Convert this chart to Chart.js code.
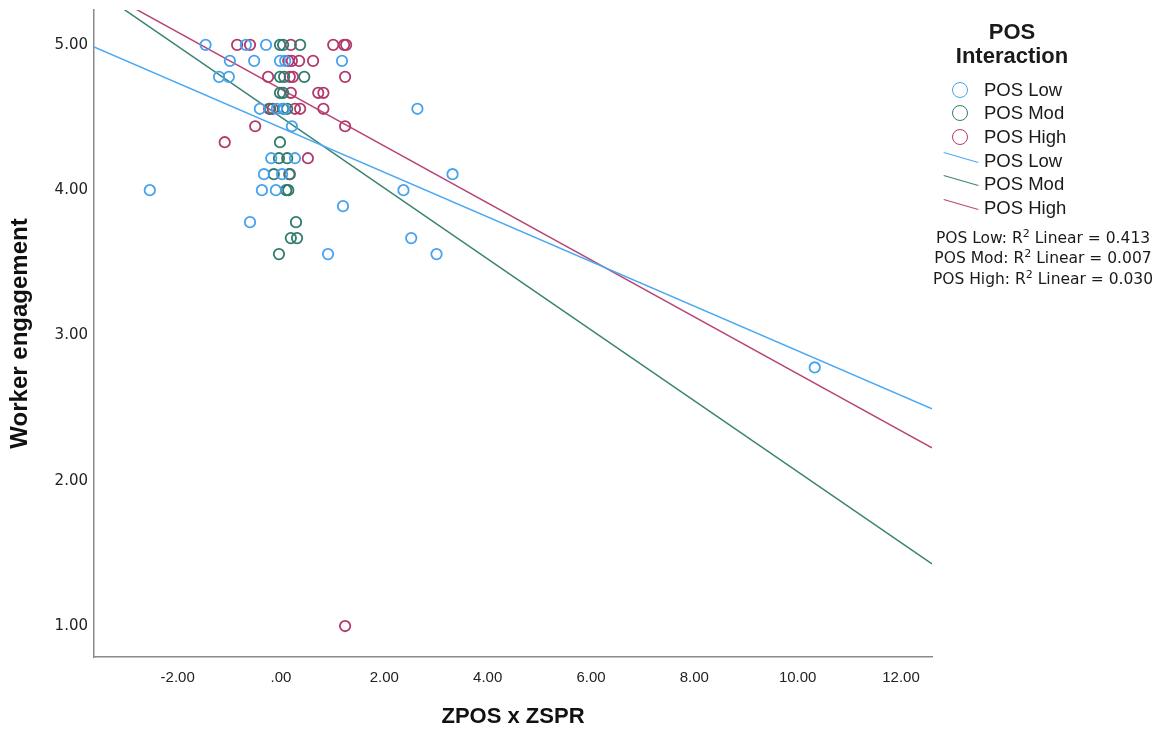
<!DOCTYPE html>
<html>
<head>
<meta charset="utf-8">
<title>Worker engagement by ZPOS x ZSPR</title>
<script src="https://cdn.jsdelivr.net/npm/chart.js@4/dist/chart.umd.min.js"></script>
<style>
  body { margin: 0; background: #fff; }
  #wrap { position: relative; width: 1168px; height: 740px; }
  .lg { position: absolute; font-family: "Liberation Sans", Arial, sans-serif; color: #1a1a1a; white-space: nowrap; }
  .lg-title { font-weight: bold; font-size: 22px; line-height: 24px; text-align: center; width: 200px; left: 912px; }
  .lg-item { font-size: 18.5px; line-height: 20px; left: 984px; }
  .lg-r2 { font-family: "DejaVu Sans", sans-serif; font-size: 15.5px; line-height: 18px; text-align: center; width: 260px; left: 913px; }
  .lg-r2 sup { font-size: 11px; line-height: 0; }
  .sym-circle { position: absolute; width: 14px; height: 14px; border-radius: 50%; border: 1.6px solid; }
  .sym-line { position: absolute; width: 36px; height: 0; border-top: 1.5px solid; transform: rotate(16deg); }
</style>
</head>
<body>
<div id="wrap">
  <canvas id="grafico"></canvas>
</div>
<script>
// scatter points [ZPOS x ZSPR, Worker engagement]
var posLowPoints = [
  [-1.46, 5.00], [-0.68, 5.00], [-0.29, 5.00],
  [-0.99, 4.89], [-0.52, 4.89], [-0.02, 4.89], [0.08, 4.89], [1.18, 4.89],
  [-1.20, 4.78], [-1.01, 4.78],
  [-0.41, 4.56], [-0.08, 4.56], [0.06, 4.56], [2.64, 4.56],
  [0.21, 4.44],
  [-0.19, 4.22], [0.27, 4.22],
  [-0.33, 4.11], [0.02, 4.11], [3.32, 4.11],
  [-2.54, 4.00], [-0.37, 4.00], [-0.10, 4.00], [2.37, 4.00],
  [1.20, 3.89],
  [-0.60, 3.78],
  [2.52, 3.67],
  [0.91, 3.56], [3.01, 3.56],
  [10.33, 2.78]
];
var posModPoints = [
  [-0.02, 5.00], [0.04, 5.00], [0.37, 5.00],
  [-0.02, 4.78], [0.06, 4.78], [0.45, 4.78],
  [-0.02, 4.67], [0.04, 4.67],
  [-0.21, 4.56], [0.04, 4.56], [0.12, 4.56],
  [-0.02, 4.33],
  [-0.04, 4.22], [0.12, 4.22],
  [-0.14, 4.11], [0.16, 4.11],
  [0.10, 4.00], [0.14, 4.00],
  [0.29, 3.78],
  [0.19, 3.67], [0.31, 3.67],
  [-0.04, 3.56]
];
var posHighPoints = [
  [-0.85, 5.00], [-0.60, 5.00], [0.19, 5.00], [1.01, 5.00], [1.22, 5.00], [1.26, 5.00],
  [0.14, 4.89], [0.21, 4.89], [0.35, 4.89], [0.62, 4.89],
  [-0.25, 4.78], [0.17, 4.78], [0.23, 4.78], [1.24, 4.78],
  [0.19, 4.67], [0.72, 4.67], [0.82, 4.67],
  [-0.23, 4.56], [-0.16, 4.56], [0.27, 4.56], [0.37, 4.56], [0.82, 4.56],
  [-0.50, 4.44], [1.24, 4.44],
  [-1.09, 4.33],
  [0.52, 4.22],
  [0.17, 4.11],
  [1.24, 1.00]
];

// fit line end points (linear regression per group)
var fitLow = [[-3.62, 4.986], [12.6, 2.495]];
var fitMod = [[-3.62, 5.386], [12.6, 1.428]];
var fitHigh = [[-3.62, 5.405], [12.6, 2.226]];

var groupLabels = ["POS Low", "POS Mod", "POS High"];
var r2Values = ["0.413", "0.007", "0.030"];
var xTicks = [-2, 0, 2, 4, 6, 8, 10, 12];
var yTicks = [1, 2, 3, 4, 5];

var pointColors = ["#45a2ef", "#2f7b6d", "#b2386c"];
var lineColors = ["#4aa8f5", "#3a8373", "#b94577"];

function toXY(arr) {
  return arr.map(function(p) { return {x: p[0], y: p[1]}; });
}

function pointSet(label, pts, color) {
  return {
    label: label,
    data: toXY(pts),
    showLine: false,
    pointStyle: 'circle',
    pointRadius: 5.2,
    pointHoverRadius: 5.2,
    pointBorderWidth: 1.8,
    borderColor: color,
    backgroundColor: 'rgba(0,0,0,0)'
  };
}

function lineSet(label, pts, color) {
  return {
    label: label,
    data: toXY(pts),
    showLine: true,
    pointRadius: 0,
    borderWidth: 1.5,
    borderColor: color,
    backgroundColor: color
  };
}

function printGrafico() {
  var ctx = document.getElementById("grafico");

  var grafico = new Chart(ctx, {
    type: 'scatter',
    data: {
      datasets: [
        pointSet(groupLabels[0], posLowPoints, pointColors[0]),
        pointSet(groupLabels[1], posModPoints, pointColors[1]),
        pointSet(groupLabels[2], posHighPoints, pointColors[2]),
        lineSet(groupLabels[0], fitLow, lineColors[0]),
        lineSet(groupLabels[1], fitMod, lineColors[1]),
        lineSet(groupLabels[2], fitHigh, lineColors[2])
      ]
    },
    options: {
      responsive: true,
      maintainAspectRatio: false,
      animation: false,
      layout: { padding: { left: 0, right: 236, top: 10, bottom: 0 } },
      plugins: {
        legend: { display: false },
        tooltip: { enabled: false }
      },
      scales: {
        x: {
          type: 'linear',
          min: -3.62,
          max: 12.6,
          afterBuildTicks: function(scale) {
            scale.ticks = xTicks.map(function(v) { return {value: v}; });
          },
          afterFit: function(scale) {
            scale.height = 83;
            scale.paddingLeft = 0;
            scale.paddingRight = 0;
          },
          grid: { display: false, drawTicks: false },
          border: { display: true, color: '#8a8a8a', width: 1.5 },
          ticks: {
            padding: 12,
            color: '#222',
            font: { family: 'Liberation Sans, sans-serif', size: 15 },
            callback: function(v) { return v === 0 ? '.00' : v.toFixed(2); }
          },
          title: {
            display: true,
            text: 'ZPOS x ZSPR',
            color: '#111',
            font: { family: 'Liberation Sans, sans-serif', size: 22, weight: 'bold' },
            padding: { top: 0, bottom: 10 }
          }
        },
        y: {
          type: 'linear',
          min: 0.787,
          max: 5.24,
          afterBuildTicks: function(scale) {
            scale.ticks = yTicks.map(function(v) { return {value: v}; });
          },
          afterFit: function(scale) {
            scale.width = 94;
            scale.paddingTop = 0;
            scale.paddingBottom = 0;
          },
          grid: { display: false, drawTicks: false },
          border: { display: true, color: '#8a8a8a', width: 1.5 },
          ticks: {
            padding: 6,
            color: '#222',
            font: { family: 'DejaVu Sans, sans-serif', size: 15 },
            callback: function(v) { return v.toFixed(2); }
          },
          title: {
            display: true,
            text: 'Worker engagement',
            color: '#111',
            font: { family: 'Liberation Sans, sans-serif', size: 24, weight: 'bold' },
            padding: { top: 6, bottom: 0 }
          }
        }
      }
    }
  });
  return grafico;
}

function printLegenda() {
  var wrap = document.getElementById("wrap");

  function add(cls, top, html) {
    var d = document.createElement("div");
    d.className = "lg " + cls;
    d.style.top = top + "px";
    d.innerHTML = html;
    wrap.appendChild(d);
    return d;
  }

  add("lg-title", 20, "POS");
  add("lg-title", 44, "Interaction");

  var circleRows = [90, 113, 137];
  var lineRows = [161, 184, 208];
  for (var i = 0; i < 3; i++) {
    add("lg-item", circleRows[i] - 10, groupLabels[i]);
    var c = document.createElement("div");
    c.className = "sym-circle";
    c.style.left = "952px";
    c.style.top = (circleRows[i] - 8) + "px";
    c.style.borderColor = pointColors[i];
    wrap.appendChild(c);

    add("lg-item", lineRows[i] - 10, groupLabels[i]);
    var l = document.createElement("div");
    l.className = "sym-line";
    l.style.left = "943px";
    l.style.top = (lineRows[i] - 4) + "px";
    l.style.borderColor = lineColors[i];
    wrap.appendChild(l);
  }

  var r2Rows = [238, 258, 279];
  for (var j = 0; j < 3; j++) {
    add("lg-r2", r2Rows[j] - 9, groupLabels[j] + ": R<sup>2</sup> Linear = " + r2Values[j]);
  }
}

printGrafico();
printLegenda();
</script>
</body>
</html>
